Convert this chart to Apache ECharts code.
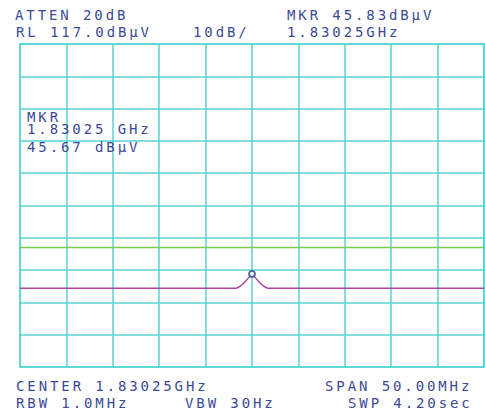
<!DOCTYPE html>
<html><head><meta charset="utf-8">
<script src="https://cdn.jsdelivr.net/npm/echarts@6/dist/echarts.min.js"></script>
<style>
html,body{margin:0;padding:0;background:#fff;}
#c{width:485px;height:412px;}
#c svg text{letter-spacing:2.9px;}
</style></head><body><div id="c"></div>
<script>
// Instrument settings
const refLevel = 117;      // dBuV (top of screen)
const dbPerDiv = 10;
const divisions = 10;
const centerMHz = 1830.25;
const spanMHz = 50;

// Trace (frequency in MHz, level in dBuV)
const freqMHz = [1805.25, 1828.50, 1828.80, 1829.10, 1829.40, 1829.70, 1830.00, 1830.25, 1830.50, 1830.80, 1831.10, 1831.40, 1831.70, 1832.00, 1855.25];
const levelDb = [41.4, 41.4, 41.7, 42.3, 43.1, 44.0, 45.0, 45.83, 45.0, 44.0, 43.1, 42.3, 41.7, 41.4, 41.4];

// Marker and limit line
const markerFreq = 1830.25;
const markerLevel = 45.83;
const limitLevel = 54;

// Screen annotations
const annotationTexts = [
  'ATTEN 20dB', 'RL 117.0dBμV', '10dB/', 'MKR 45.83dBμV', '1.83025GHz',
  'MKR', '1.83025 GHz', '45.67 dBμV',
  'CENTER 1.83025GHz', 'SPAN 50.00MHz', 'RBW 1.0MHz', 'VBW 30Hz', 'SWP 4.20sec'
];
const annotationPos = [
  [15, 15.3], [16, 31.7], [193, 31.7], [287, 15.3], [287, 31.7],
  [27, 116.5], [27, 128.6], [27, 147],
  [16, 385.7], [325, 385.7], [16, 402.7], [185, 402.7], [348, 402.7]
];

const minMHz = centerMHz - spanMHz / 2;
const maxMHz = centerMHz + spanMHz / 2;
const bottomLevel = refLevel - dbPerDiv * divisions;

const textColor = '#3b4a96';
const gridColor = '#55d4d4';
const lineH = 11;

const chart = echarts.init(document.getElementById('c'), null, {renderer: 'svg'});
const option = {
  backgroundColor: '#ffffff',
  animation: false,
  grid: {left: 20, right: 1, top: 44, bottom: 45, show: true, borderColor: gridColor, borderWidth: 1.5},
  xAxis: [
    {type: 'value', min: 0, max: divisions, interval: 1, axisLabel: {show: false}, axisTick: {show: false},
     axisLine: {show: false}, splitLine: {show: true, lineStyle: {color: gridColor, width: 1.5}}},
    {type: 'value', min: minMHz, max: maxMHz, show: false, splitLine: {show: false}}
  ],
  yAxis: [
    {type: 'value', min: 0, max: divisions, interval: 1, axisLabel: {show: false}, axisTick: {show: false},
     axisLine: {show: false}, splitLine: {show: true, lineStyle: {color: gridColor, width: 1.5}}},
    {type: 'value', min: bottomLevel, max: refLevel, show: false, splitLine: {show: false}}
  ],
  series: [
    {type: 'line', xAxisIndex: 1, yAxisIndex: 1, data: [[minMHz, limitLevel], [maxMHz, limitLevel]],
     symbol: 'none', lineStyle: {color: '#7ccc52', width: 1.5}, silent: true},
    {type: 'line', xAxisIndex: 1, yAxisIndex: 1, data: freqMHz.map((f, i) => [f, levelDb[i]]),
     symbol: 'none', smooth: 0.3, lineStyle: {color: '#ac46a2', width: 1.5}, silent: true},
    {type: 'scatter', xAxisIndex: 1, yAxisIndex: 1, data: [[markerFreq, markerLevel]],
     symbol: 'circle', symbolSize: 6, itemStyle: {color: '#ffffff', borderColor: '#243a8c', borderWidth: 1.8}, z: 5}
  ],
  graphic: annotationTexts.map((t, i) => ({
    type: 'text', left: annotationPos[i][0], top: annotationPos[i][1] - lineH / 2 - 1.5, z: 10,
    style: {text: t, fill: textColor, font: '14px "DejaVu Sans Mono"', lineHeight: lineH, textVerticalAlign: 'top'}
  }))
};
chart.setOption(option);
</script></body></html>
